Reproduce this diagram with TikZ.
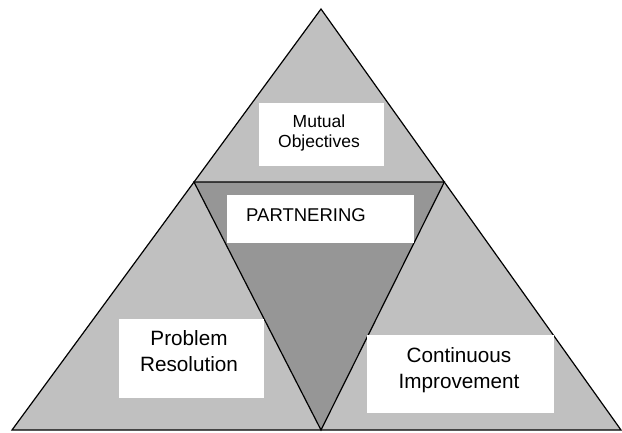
\documentclass[tikz,border=0pt]{standalone}
\usepackage{fontspec}
\setmainfont{Liberation Sans}
\usetikzlibrary{calc}
\definecolor{lightgray}{RGB}{192,192,192}
\definecolor{midgray}{RGB}{150,150,150}

\begin{document}
\begin{tikzpicture}[x=1pt, y=-1pt,
    outline/.style={draw=black, line width=1.2pt, line join=miter},
    whitebox/.style={fill=white, draw=none, inner sep=0pt},
    caption/.style={align=center, inner sep=0pt}]
    \useasboundingbox (0,0) rectangle (622,432);
    % big triangle and the inverted one inside it
    \coordinate (apex) at (321,9);
    \coordinate (lft) at (12,430);
    \coordinate (rgt) at (621,430);
    \coordinate (il) at ($(lft)!0.589!(apex)$);
    \coordinate (ir) at ($(rgt)!0.589!(apex)$);
    \coordinate (ib) at (321,430);
    \filldraw[outline, fill=lightgray] (apex) -- (lft) -- (rgt) -- cycle;
    \filldraw[outline, fill=midgray] (il) -- (ir) -- (ib) -- cycle;
    % labels
    \node[whitebox, minimum width=125pt, minimum height=63pt] (mutualbox) at (321.5,134.5) {};
    \node[caption, font=\fontsize{17.5}{20}\selectfont] (mutual) at (319,132.5) {Mutual\\Objectives};
    \node[whitebox, minimum width=187pt, minimum height=48pt] (partbox) at (320.5,219) {};
    \node[anchor=base west, inner sep=0pt, font=\fontsize{18.5}{22}\selectfont] (partnering) at (246,221) {PARTNERING};
    \node[whitebox, minimum width=145pt, minimum height=79pt] (problembox) at (191.5,358.5) {};
    \node[caption, font=\fontsize{20.7}{26}\selectfont] (problem) at (189,351.5) {Problem\\Resolution};
    \node[whitebox, minimum width=187pt, minimum height=78pt] (contbox) at (460.5,374) {};
    \node[caption, font=\fontsize{20.7}{26}\selectfont] (cont) at (459,369.7) {Continuous\\Improvement};
\end{tikzpicture}
\end{document}
